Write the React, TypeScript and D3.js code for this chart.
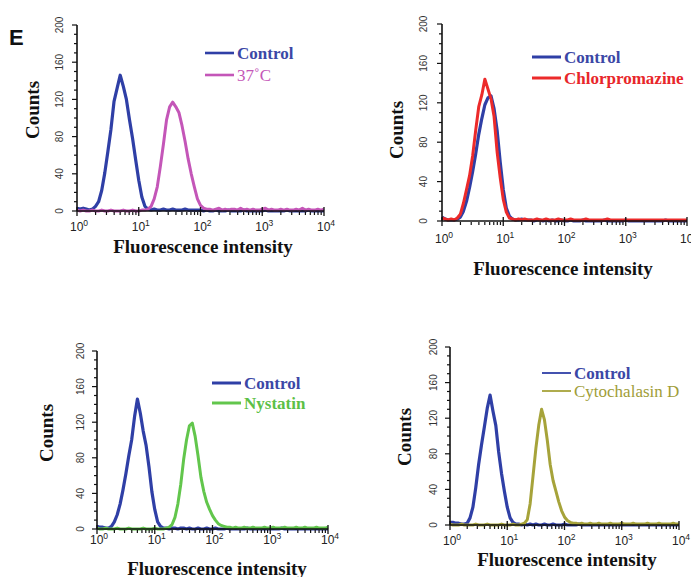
import React from "react";
import * as d3 from "d3";

// log10 of fluorescence intensity for each histogram bin (0 .. 4, step 0.05)
const binLogs: number[] = d3.range(81).map((i) => i * 0.05);

const yTicks = [0, 40, 80, 120, 160, 200];
const xDecades = [0, 1, 2, 3, 4];

const p1Control = [3,2,3,2,1,2,5,10,22,41, 64,88,118,132,146,134,120,98,78,55, 33,15,5,2,1,2,1,1,2,1, 1,2,1,1,1,2,1,1,1,1, 1,0,1,0,0,1,0,0,0,1, 0,0,0,0,1,0,0,0,0,0, 0,1,0,0,0,0,0,0,1,0, 0,0,0,0,0,1,0,0,0,0, 0];
const p1Treat = [1,0,1,0,0,1,0,0,1,0, 0,1,0,0,0,1,0,0,1,0, 0,1,1,2,5,13,26,48,72,98, 112,117,112,106,92,75,56,40,26,13, 6,3,2,2,1,2,3,1,2,1, 2,2,1,3,1,2,1,2,1,1, 2,3,1,2,1,1,2,1,2,1, 1,2,1,3,1,2,1,1,2,1, 2];

const p2Control = [4,2,1,1,1,2,4,10,20,34, 50,68,88,104,118,125,127,114,92,60, 32,13,5,2,1,1,2,1,1,1, 0,1,1,0,1,0,1,0,0,1, 0,0,1,0,0,0,1,0,0,0, 0,0,0,1,0,0,0,0,0,0, 1,0,0,0,0,0,0,0,0,0, 0,0,0,1,0,0,0,0,0,0, 0];
const p2Treat = [3,2,1,2,1,3,7,18,32,46, 66,92,116,128,144,134,124,106,70,44, 22,9,3,2,1,2,1,2,1,1, 1,2,1,1,2,1,1,1,2,1, 1,1,2,1,1,1,1,2,1,1, 1,1,1,1,2,1,1,1,1,1, 1,1,1,1,1,1,1,1,1,1, 1,1,1,1,1,1,1,1,1,1, 1];

const p3Control = [3,2,2,1,1,3,8,16,28,44, 62,82,100,126,146,130,110,94,70,42, 22,8,3,1,1,0,1,1,0,1, 1,0,1,0,0,1,0,0,1,0, 0,1,0,0,0,1,0,0,0,0, 0,0,1,0,0,0,0,0,0,0, 0,0,0,0,1,0,0,0,0,0, 0,0,0,0,0,0,0,0,0,0, 0];
const p3Treat = [1,0,0,1,0,0,0,1,0,0, 0,1,0,0,0,0,1,0,0,0, 1,0,0,0,1,2,5,13,28,50, 78,100,116,119,104,82,58,42,30,22, 15,10,6,4,3,2,2,1,2,1, 1,2,1,1,2,1,1,1,2,1, 1,2,1,1,1,2,1,1,1,2, 1,1,2,1,1,1,2,1,1,1, 2];

const p4Control = [3,3,2,2,1,1,2,8,20,42, 68,90,110,131,146,128,112,82,58,38, 20,8,3,1,1,0,1,0,1,0, 1,0,0,1,0,0,1,0,0,0, 1,0,0,0,0,1,0,0,0,0, 0,0,0,0,0,0,0,0,0,0, 0,0,0,0,0,0,0,0,0,0, 0,0,0,0,0,0,0,0,0,0, 0];
const p4Treat = [1,0,0,0,1,0,0,0,0,1, 0,0,0,1,0,0,0,0,1,0, 0,0,1,0,0,1,2,6,24,55, 86,112,130,118,95,68,50,38,26,16, 9,5,3,2,2,1,2,1,1,2, 1,1,2,1,1,1,2,1,1,1, 2,1,1,1,2,1,1,1,1,2, 1,1,1,2,1,1,1,1,2,1, 1];

const treatLabels = ["37\u02DAC", "Chlorpromazine", "Nystatin", "Cytochalasin D"];

const BLUE = "#2f3fa6";
const BLUE_TEXT = "#3b47a6";

type Panel = {
  control: number[];
  treat: number[];
  label: string;
  color: string;
  textColor: string;
  treatBold: boolean;
  legWidth: number;
  x0: number; x1: number; yZero: number; yTop: number;
  countsX: number; countsY: number;
  titleX: number; titleY: number;
  tickLabelY: number; yLabelX: number;
  legX: number; legY1: number; legY2: number;
};

const panels: Panel[] = [
  { control: p1Control, treat: p1Treat, label: treatLabels[0], color: "#c456b8", textColor: "#c456b8", treatBold: false, legWidth: 2.6,
    x0: 77, x1: 324, yZero: 211, yTop: 25, countsX: 39, countsY: 110, titleX: 203, titleY: 253, tickLabelY: 231, yLabelX: 63,
    legX: 205, legY1: 53, legY2: 75 },
  { control: p2Control, treat: p2Treat, label: treatLabels[1], color: "#ec2a2a", textColor: "#e8262a", treatBold: true, legWidth: 3,
    x0: 442, x1: 687, yZero: 221, yTop: 24, countsX: 403, countsY: 130, titleX: 563, titleY: 275, tickLabelY: 243, yLabelX: 427,
    legX: 532, legY1: 57, legY2: 78 },
  { control: p3Control, treat: p3Treat, label: treatLabels[2], color: "#62c64c", textColor: "#5cc046", treatBold: true, legWidth: 3,
    x0: 97, x1: 328, yZero: 529, yTop: 351, countsX: 53, countsY: 433, titleX: 217, titleY: 575, tickLabelY: 544, yLabelX: 84,
    legX: 212, legY1: 383, legY2: 403 },
  { control: p4Control, treat: p4Treat, label: treatLabels[3], color: "#a6a33a", textColor: "#a09d38", treatBold: false, legWidth: 1.8,
    x0: 450, x1: 679, yZero: 525, yTop: 347, countsX: 411, countsY: 437, titleX: 567, titleY: 566, tickLabelY: 545, yLabelX: 437,
    legX: 542, legY1: 373, legY2: 391 },
];

const SERIF = "'Liberation Serif', 'Times New Roman', serif";
const SANS = "'Liberation Sans', Arial, sans-serif";

function PanelView({ p }: { p: Panel }) {
  const x = d3.scaleLog().domain([1, 1e4]).range([p.x0, p.x1]);
  const y = d3.scaleLinear().domain([0, 200]).range([p.yZero, p.yTop]);
  const line = d3
    .line<number>()
    .x((_, i) => x(Math.pow(10, binLogs[i])))
    .y((v) => y(v))
    .curve(d3.curveLinear);

  const minorX: number[] = [];
  for (let dec = 0; dec < 4; dec++) for (let m = 2; m <= 9; m++) minorX.push(m * Math.pow(10, dec));
  const minorY = d3.range(0, 201, 10);

  return (
    <g>
      {/* curves */}
      <path d={line(p.control) || ""} fill="none" stroke={BLUE} strokeWidth={3.2} strokeLinejoin="round" />
      <path d={line(p.treat) || ""} fill="none" stroke={p.color} strokeWidth={3} strokeLinejoin="round" />

      {/* y axis */}
      <line x1={p.x0} x2={p.x0} y1={p.yZero} y2={p.yTop} stroke="#111" strokeWidth={1.6} />
      {minorY.map((v) => (
        <line key={"my" + v} x1={p.x0} x2={p.x0 - (v % 40 === 0 ? 5 : 3)} y1={y(v)} y2={y(v)} stroke="#111" strokeWidth={1.2} />
      ))}
      {yTicks.map((v) => (
        <text key={"yt" + v} transform={`translate(${p.yLabelX},${y(v)}) rotate(-90)`} textAnchor="middle"
          fontFamily={SANS} fontSize={10} fill="#333">{v}</text>
      ))}

      {/* x axis */}
      <line x1={p.x0} x2={p.x1} y1={p.yZero} y2={p.yZero} stroke="#111" strokeWidth={1.6} />
      {minorX.map((v) => (
        <line key={"mx" + v} x1={x(v)} x2={x(v)} y1={p.yZero + 1} y2={p.yZero + 4} stroke="#111" strokeWidth={1.2} />
      ))}
      {xDecades.map((d) => (
        <g key={"xd" + d}>
          <line x1={x(Math.pow(10, d))} x2={x(Math.pow(10, d))} y1={p.yZero - 4} y2={p.yZero + 5} stroke="#111" strokeWidth={1.3} />
          <text x={x(Math.pow(10, d)) - 7} y={p.tickLabelY} fontFamily={SANS} fontSize={12} fill="#222">
            10<tspan fontSize={8.5} dy={-5}>{d}</tspan>
          </text>
        </g>
      ))}

      {/* axis titles */}
      <text transform={`translate(${p.countsX},${p.countsY}) rotate(-90)`} textAnchor="middle"
        fontFamily={SERIF} fontWeight="bold" fontSize={19} fill="#111">Counts</text>
      <text x={p.titleX} y={p.titleY} textAnchor="middle" fontFamily={SERIF} fontWeight="bold" fontSize={19} fill="#111">
        Fluorescence intensity
      </text>

      {/* legend */}
      <line x1={p.legX} x2={p.legX + 29} y1={p.legY1} y2={p.legY1} stroke={BLUE} strokeWidth={p.legWidth} />
      <text x={p.legX + 32} y={p.legY1 + 5.5} fontFamily={SERIF} fontWeight="bold" fontSize={17} fill={BLUE_TEXT}>Control</text>
      <line x1={p.legX} x2={p.legX + 29} y1={p.legY2} y2={p.legY2} stroke={p.color} strokeWidth={p.legWidth} />
      <text x={p.legX + 32} y={p.legY2 + 5.5} fontFamily={SERIF} fontWeight={p.treatBold ? "bold" : "normal"} fontSize={17}
        fill={p.textColor}>{p.label}</text>
    </g>
  );
}

export default function App() {
  return (
    <svg width={691} height={577} style={{ position: "absolute", left: 0, top: 0, background: "#fff" }}>
      <rect x={0} y={0} width={691} height={577} fill="#fff" />
      <text x={9} y={45} fontFamily={SANS} fontWeight="bold" fontSize={22} fill="#111">E</text>
      {panels.map((p, i) => (
        <PanelView key={i} p={p} />
      ))}
    </svg>
  );
}
